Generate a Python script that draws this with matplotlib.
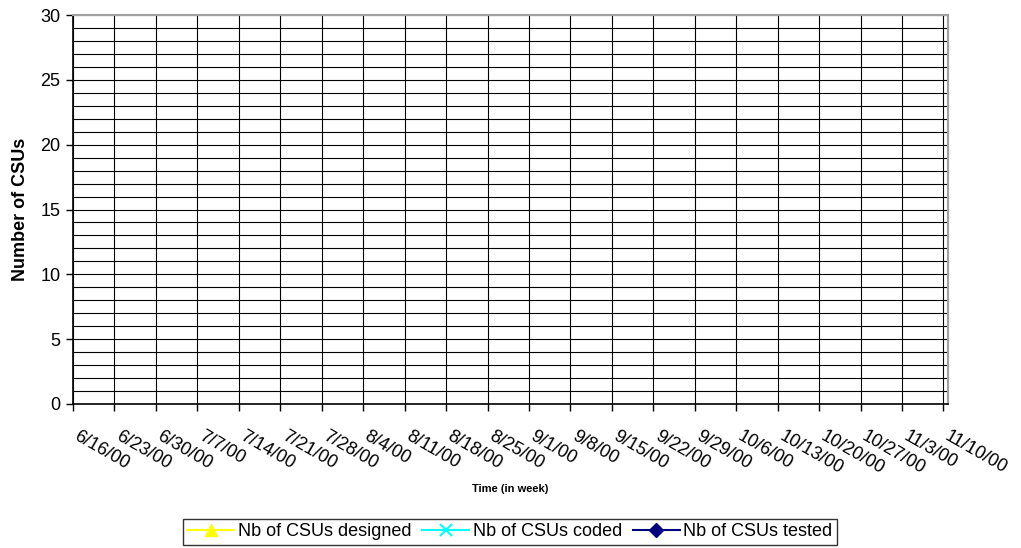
import matplotlib
matplotlib.use('Agg')
import matplotlib.pyplot as plt
import matplotlib.transforms as mtransforms
from matplotlib.ticker import MultipleLocator

plt.rcParams['font.family'] = ['Liberation Sans', 'DejaVu Sans']

# --- data ---
weeks = ['6/16/00', '6/23/00', '6/30/00', '7/7/00', '7/14/00', '7/21/00', '7/28/00',
         '8/4/00', '8/11/00', '8/18/00', '8/25/00', '9/1/00', '9/8/00', '9/15/00',
         '9/22/00', '9/29/00', '10/6/00', '10/13/00', '10/20/00', '10/27/00',
         '11/3/00', '11/10/00']
# no values recorded yet for any series
csus_designed = []
csus_coded = []
csus_tested = []

fig = plt.figure(figsize=(10.21, 5.48), dpi=100)
W, H = 1021, 548
ax = fig.add_axes([73 / W, 1 - 404 / H, (948 - 73) / W, (404 - 15) / H])

x = list(range(len(weeks)))
ax.plot(x[:len(csus_designed)], csus_designed, '-^', color='#FFFF00', markersize=9,
        lw=1.5, label='Nb of CSUs designed')
ax.plot(x[:len(csus_coded)], csus_coded, '-x', color='#00FFFF', markersize=9,
        mew=1.5, lw=1.5, label='Nb of CSUs coded')
ax.plot(x[:len(csus_tested)], csus_tested, '-D', color='#000080', markersize=7,
        lw=1.5, label='Nb of CSUs tested')

ax.set_ylim(0, 30)
ax.set_xlim(0, (len(weeks) - 1) + 4.5 / 41.45)
ax.yaxis.set_major_locator(MultipleLocator(5))
ax.yaxis.set_minor_locator(MultipleLocator(1))
ax.set_xticks(x)
ax.set_xticklabels([''] * len(weeks))

# slanted date labels, nudged right/down of each tick like the original
lab_trans = ax.get_xaxis_transform() + mtransforms.ScaledTranslation(
    7 / 100, -24 / 100, fig.dpi_scale_trans)
for xi, w in zip(x, weeks):
    ax.text(xi, 0, w, transform=lab_trans, rotation=-30, rotation_mode='anchor',
            ha='left', va='top', fontsize=13, clip_on=False)

ax.tick_params(axis='x', which='major', length=5, width=1, direction='out')
ax.tick_params(axis='y', which='major', length=5, width=1, direction='out', labelsize=13, pad=4)
ax.tick_params(axis='y', which='minor', left=False, length=0)

ax.grid(True, axis='y', which='both', color='black', lw=0.8)
ax.grid(True, axis='x', which='major', color='black', lw=0.8)
ax.set_axisbelow(True)

for s in ['left', 'bottom']:
    ax.spines[s].set_color('black')
    ax.spines[s].set_linewidth(1.2)
for s in ['top', 'right']:
    ax.spines[s].set_color('#A0A0A0')
    ax.spines[s].set_linewidth(1.5)

ax.set_ylabel('Number of CSUs', fontsize=13, fontweight='bold')
ax.yaxis.set_label_coords(-0.05, 0.5)
ax.set_xlabel('Time (in week)', fontsize=8, fontweight='bold')
ax.xaxis.set_label_coords(0.5, -0.205)

leg = fig.legend(loc='center', bbox_to_anchor=(510 / W, 1 - 532 / H), ncol=3,
                 fontsize=13, frameon=True, fancybox=False, handlelength=2.6,
                 handletextpad=0.2, columnspacing=0.6, borderpad=0.25,
                 borderaxespad=0)
leg.get_frame().set_edgecolor('black')
leg.get_frame().set_linewidth(1.0)

fig.savefig('out.png', dpi=100)
